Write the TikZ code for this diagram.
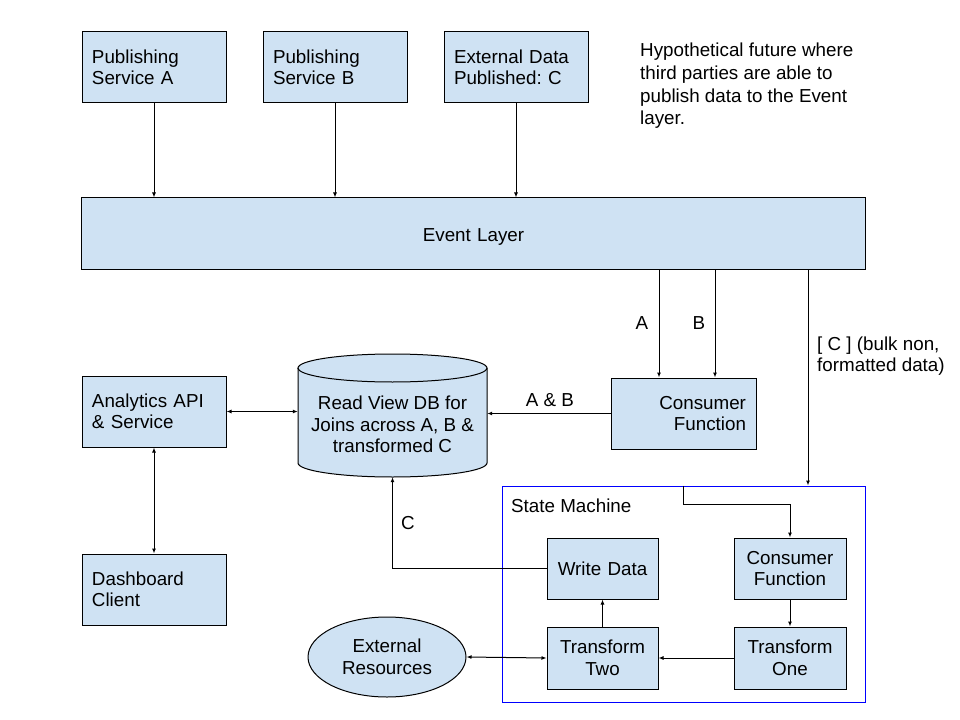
\documentclass[tikz,border=0pt]{standalone}
\usepackage{fontspec}
\setmainfont{Liberation Sans}
\usetikzlibrary{arrows.meta,shapes.geometric}
\definecolor{boxfill}{HTML}{CFE2F3}
\definecolor{smblue}{HTML}{0000FF}
\frenchspacing
\begin{document}
\begin{tikzpicture}[x=1bp,y=-1bp,
  font=\fontsize{18.8bp}{21.5bp}\selectfont\frenchspacing,
  box/.style={draw=black, fill=boxfill, line width=1bp, inner xsep=10bp, inner ysep=0pt},
  lbl/.style={inner sep=0pt},
  arr/.style={line width=1bp, -{Latex[length=5bp,width=4bp]}},
  darr/.style={line width=1bp, {Latex[length=5bp,width=4bp]}-{Latex[length=5bp,width=4bp]}},
  ln/.style={line width=1bp}]
\useasboundingbox (0,0) rectangle (960,720);

% top services
\node[box, text width=124bp, minimum height=71bp, align=left] (pa) at (154,67.5) {Publishing\\Service A};
\node[box, text width=124bp, minimum height=71bp, align=left] (pb) at (335,67.5) {Publishing\\Service B};
\node[box, text width=124bp, minimum height=71bp, align=left] (pc) at (516,67.5) {External Data\\Published: C};
\node[lbl, anchor=west, align=left, font=\fontsize{18.8bp}{22.7bp}\selectfont\frenchspacing] (hyp) at (640,86) {Hypothetical future where\\third parties are able to\\publish data to the Event\\layer.};

% event layer
\node[box, text width=763bp, minimum height=71bp, align=center, text height=16bp, text depth=0bp] (el) at (473.5,233.5) {Event Layer};

\draw[arr] (pa.south) -- (pa.south |- el.north);
\draw[arr] (pb.south) -- (pb.south |- el.north);
\draw[arr] (pc.south) -- (pc.south |- el.north);

% consumer function (top)
\node[box, text width=125bp, minimum height=71bp, align=right] (cf1) at (683.5,413.5) {Consumer\\Function};
\coordinate (ca) at (659,0);
\coordinate (cb) at (715,0);
\coordinate (cc) at (808,0);
\draw[arr] (el.south -| ca) -- (cf1.north -| ca);
\draw[arr] (el.south -| cb) -- (cf1.north -| cb);
\node[lbl] (la) at (642,323) {A};
\node[lbl] (lb) at (699,323) {B};

% database cylinder
\node[minimum width=189bp, minimum height=123bp, inner sep=0pt] (db) at (392.5,415.5) {};
\path[fill=boxfill, draw=black, line width=1bp] (298,368) -- (298,463)
  arc[start angle=180, end angle=360, x radius=94.5bp, y radius=14bp] -- (487,368)
  arc[start angle=0, end angle=180, x radius=94.5bp, y radius=14bp] -- cycle;
\draw[ln] (298,368) arc[start angle=180, end angle=360, x radius=94.5bp, y radius=14bp];
\node[lbl, align=center] (dbt) at (392.5,424.5) {Read View DB for\\Joins across A, B \&\\transformed C};

\draw[arr] (cf1.west) -- (cf1.west -| db.east);
\node[lbl] (lab) at (550,400) {A \& B};

% analytics / dashboard
\node[box, text width=124bp, minimum height=71bp, align=left] (an) at (154,411.5) {Analytics API\\\& Service};
\node[box, text width=124bp, minimum height=71bp, align=left] (dc) at (154,589.5) {Dashboard\\Client};
\draw[darr] (an.east) -- (an.east -| db.west);
\draw[darr] (an.south) -- (dc.north);

% state machine
\node[draw=smblue, line width=1bp, minimum width=363bp, minimum height=216bp, inner sep=0pt] (sm) at (683.5,594) {};
\node[lbl, anchor=west] (smt) at (511,506) {State Machine};
\draw[arr] (el.south -| cc) -- (sm.north -| cc);
\node[lbl, anchor=west, align=left] (lc) at (817,356) {[ C ] (bulk non,\\formatted data)};

\node[box, text width=91bp, minimum height=61bp, align=center] (wd) at (602.5,568.5) {Write Data};
\node[box, text width=92bp, minimum height=61bp, align=center] (cf2) at (790,568.5) {Consumer\\Function};
\node[box, text width=91bp, minimum height=62bp, align=center] (t2) at (602.5,658) {Transform\\Two};
\node[box, text width=92bp, minimum height=62bp, align=center] (t1) at (790,658) {Transform\\One};

\draw[arr] (sm.north) -- ++(0,19) -| (cf2.north);
\draw[arr] (cf2.south) -- (t1.north);
\draw[arr] (t1.west) -- (t2.east);
\draw[arr] (t2.north) -- (wd.south);

% external resources
\node[ellipse, draw=black, fill=boxfill, line width=1bp, minimum width=158bp, minimum height=80bp, inner sep=0pt, align=center] (er) at (387,657) {External\\Resources};
\draw[darr] (t2.west) -- (er.east);

% C back to DB
\draw[arr] (wd.west) -| (db.south);
\node[lbl] (lcc) at (408,523) {C};
\end{tikzpicture}
\end{document}
